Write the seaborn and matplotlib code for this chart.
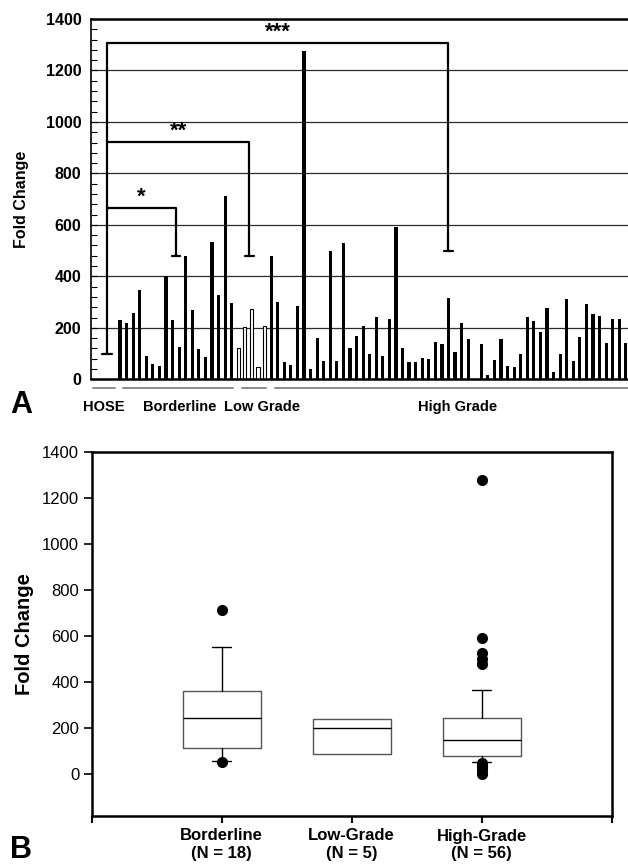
"""Fold change per sample (bars) and per tumour grade (box plots)."""
import numpy as np
import pandas as pd
import matplotlib
matplotlib.use("Agg")
import matplotlib.pyplot as plt
from matplotlib.ticker import MultipleLocator
import seaborn as sns

# fold change per sample, read left to right off panel A
hose = [1]
borderline = [230, 220, 256, 347, 92, 58, 53, 400, 230, 124,
              481, 268, 118, 85, 532, 326, 712, 296]
low_grade = [122, 202, 272, 49, 207]
high_grade = [479, 300, 68, 57, 286, 1275, 39, 162, 71, 499,
              71, 528, 120, 169, 207, 97, 243, 90, 233, 593,
              120, 68, 68, 84, 80, 146, 136, 314, 107, 220,
              155, 1, 136, 17, 76, 156, 52, 49, 98, 243,
              225, 184, 276, 30, 98, 312, 72, 163, 292, 254,
              246, 142, 234, 233, 142, 150]

group_names = ["HOSE", "Borderline", "Low Grade", "High Grade"]
box_labels = ["Borderline\n(N = 18)", "Low-Grade\n(N = 5)", "High-Grade\n(N = 56)"]
y_ticks = list(range(0, 1401, 200))

# significance brackets from HOSE: (right end slot, bracket level, right end level, label)
brackets = [(8.5, 665, 479, "*"), (19.7, 921, 479, "**"), (50, 1307, 499, "***")]
hose_bracket_base = 100

# slots on the x axis for each group
slots = {
    "HOSE": [-2],
    "Borderline": list(range(0, 18)),
    "Low Grade": list(range(18, 23)),
    "High Grade": list(range(23, 23 + len(high_grade))),
}
values = {"HOSE": hose, "Borderline": borderline,
          "Low Grade": low_grade, "High Grade": high_grade}

df = pd.concat(
    [pd.DataFrame({"pos": slots[g], "fold": values[g], "group": g}) for g in group_names],
    ignore_index=True,
)

sns.set_theme(style="white")
plt.rcParams["font.family"] = ["Liberation Sans", "DejaVu Sans"]
plt.rcParams.update({"text.color": "black", "axes.labelcolor": "black",
                     "xtick.color": "black", "ytick.color": "black"})

W, H = 628, 866
fig = plt.figure(figsize=(W / 100, H / 100), dpi=100)

# ---------------- panel A ----------------
ax1 = fig.add_axes([91 / W, 1 - 379.3 / H, 1 - 91 / W, 360.3 / H])
solid = df[df["group"] != "Low Grade"]
hollow = df[df["group"] == "Low Grade"]
sns.barplot(data=solid, x="pos", y="fold", native_scale=True, orient="x",
            color="black", saturation=1, width=0.48, errorbar=None,
            linewidth=0, ax=ax1)
sns.barplot(data=hollow, x="pos", y="fold", native_scale=True, orient="x",
            color="white", saturation=1, width=0.48, errorbar=None,
            edgecolor="black", linewidth=0.8, ax=ax1)

ax1.set_xlim(-4.41, 77.32)
ax1.set_ylim(0, 1400)
ax1.set_yticks(y_ticks)
ax1.yaxis.set_minor_locator(MultipleLocator(40))
ax1.set_yticklabels([str(t) for t in y_ticks], fontsize=11.5, fontweight="bold")
ax1.tick_params(axis="y", which="both", direction="in", left=True, length=4,
                width=0.8, color="black", pad=7)
ax1.set_xticks([])
ax1.set_xlabel("")
ax1.set_ylabel("Fold Change", fontsize=11.5, fontweight="bold", labelpad=12)
ax1.yaxis.grid(True, color="#2a2a2a", linewidth=0.9)
ax1.set_axisbelow(True)
for side in ["top", "bottom", "left"]:
    ax1.spines[side].set_color("black")
ax1.spines["top"].set_linewidth(1.8)
ax1.spines["bottom"].set_linewidth(1.8)
ax1.spines["left"].set_linewidth(1.2)
ax1.spines["right"].set_visible(False)

# brackets
hx = slots["HOSE"][0]
top_level = max(b[1] for b in brackets)
ax1.plot([hx, hx], [hose_bracket_base, top_level], color="black", lw=1.6, zorder=5)
ax1.plot([hx - 0.75, hx + 0.75], [hose_bracket_base] * 2, color="black", lw=1.6, zorder=5)
for right, level, end, label in brackets:
    ax1.plot([hx, right, right], [level, level, end], color="black", lw=1.6, zorder=5)
    ax1.plot([right - 0.65, right + 0.65], [end, end], color="black", lw=1.6, zorder=5)
    ax1.text((hx + right) / 2, level + 2, label, ha="center", va="bottom",
             fontsize=16, fontweight="bold")

# group underlines and names below the axis
spans = [(-4.1, -0.8), (0.5, 17.2), (18.5, 22.3), (23.6, 78)]
name_x = [-2.4, 9.1, 21.6, 51.4]
for (a, b), nx, name in zip(spans, name_x, group_names):
    ax1.plot([a, b], [-34, -34], color="#8a8a8a", lw=1.4, clip_on=False)
    ax1.text(nx, -108, name, ha="center", va="center", fontsize=10.5, fontweight="bold")

fig.text(10 / W, 1 - 413 / H, "A", fontsize=22, fontweight="bold", ha="left", va="baseline")


# ---------------- panel B ----------------
def box_stats(vals, label):
    """SigmaPlot-style box: weibull quartiles, 10th/90th whiskers when n >= 9."""
    v = np.asarray(vals, dtype=float)
    q1, med, q3 = np.percentile(v, [25, 50, 75], method="weibull")
    if len(v) >= 9:
        lo, hi = np.percentile(v, [10, 90], method="weibull")
        fliers = v[(v < lo) | (v > hi)]
    else:
        lo, hi = q1, q3
        fliers = np.array([])
    return {"med": med, "q1": q1, "q3": q3, "whislo": lo, "whishi": hi,
            "fliers": fliers, "label": label}


ax2 = fig.add_axes([91.7 / W, 1 - 816 / H, 520 / W, 364.3 / H])
stats = [box_stats(borderline, box_labels[0]),
         box_stats(low_grade, box_labels[1]),
         box_stats(high_grade, box_labels[2])]
parts = ax2.bxp(stats, positions=[1, 2, 3], widths=0.6, capwidths=0.15,
                boxprops=dict(color="#555555", lw=1),
                medianprops=dict(color="black", lw=1),
                whiskerprops=dict(color="black", lw=1),
                capprops=dict(color="black", lw=1),
                flierprops=dict(marker="o", markerfacecolor="black",
                                markeredgecolor="black", markersize=7))
# no whiskers drawn for the small low-grade group
for i, s in enumerate(stats):
    if s["whislo"] == s["q1"] and s["whishi"] == s["q3"]:
        for art in parts["caps"][2 * i:2 * i + 2] + parts["whiskers"][2 * i:2 * i + 2]:
            art.set_visible(False)

ax2.set_xlim(0, 4)
ax2.set_ylim(-182, 1400)
ax2.set_xticks([0, 1, 2, 3, 4])
ax2.set_xticklabels([""] + box_labels + [""], fontsize=12, fontweight="bold",
                    linespacing=1.2)
ax2.set_yticks(y_ticks)
ax2.set_yticklabels([str(t) for t in y_ticks], fontsize=12)
ax2.tick_params(axis="y", direction="out", left=True, length=6, width=1.2,
                color="black", pad=3)
ax2.tick_params(axis="x", direction="out", bottom=True, length=5, width=1.5,
                color="black", pad=4)
ax2.set_ylabel("Fold Change", fontsize=14.5, fontweight="bold", labelpad=6)
for side in ax2.spines:
    ax2.spines[side].set_color("black")
    ax2.spines[side].set_linewidth(1.8)

fig.text(10 / W, 1 / H, "B", fontsize=22, fontweight="bold", ha="left", va="bottom")

fig.savefig("out.png", dpi=100)
